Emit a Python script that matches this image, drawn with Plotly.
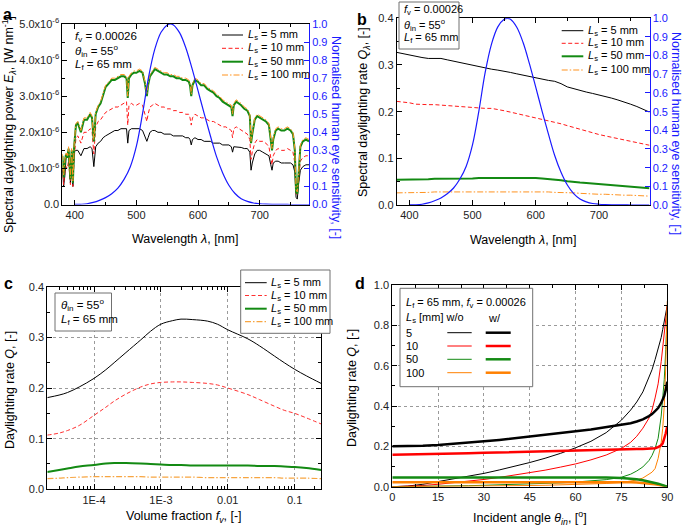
import numpy as np
import plotly.graph_objects as go

W, H = 685, 531
FONT = "Arial, Liberation Sans, sans-serif"


def px(x):
    return x / W


def py(y):
    return 1 - y / H


# ---------------- Panel a data (E_lambda in units of 1e-6 W/nm) ----------------
wl_a = [380, 382, 384, 386, 388, 390, 393, 395, 397, 399,
        402, 405, 410, 415, 420, 425, 428, 431, 434, 438,
        442, 446, 450, 455, 460, 465, 470, 475, 480, 484,
        486, 488, 492, 496, 500, 505, 510, 514, 517, 519,
        522, 526, 530, 535, 540, 545, 550, 555, 560, 565,
        570, 575, 580, 585, 587, 589, 591, 595, 600, 605,
        610, 615, 620, 625, 630, 635, 640, 645, 650, 654,
        656, 658, 662, 666, 670, 675, 680, 684, 686, 688,
        692, 696, 700, 705, 710, 715, 718, 720, 722, 726,
        730, 735, 740, 745, 750, 754, 757, 759, 761, 763,
        766, 770, 775, 780]

Ea_5 = [0.95, 0.5, 0.8, 1.3, 1.4, 1.45, 0.6, 1.4, 0.5, 1.45,
        1.5, 1.5, 1.35, 1.55, 1.55, 1.6, 1.55, 1.05, 1.6, 1.7,
        1.75, 1.85, 1.9, 1.95, 2.0, 2.05, 2.05, 2.1, 2.1, 2.1,
        1.7, 2.05, 2.1, 2.1, 2.1, 2.1, 2.05, 1.85, 1.75, 1.85,
        2.0, 2.05, 2.05, 2.0, 2.0, 1.95, 1.95, 1.95, 1.9, 1.9,
        1.9, 1.9, 1.85, 1.85, 1.8, 1.65, 1.8, 1.85, 1.8, 1.8,
        1.75, 1.75, 1.75, 1.7, 1.7, 1.7, 1.65, 1.65, 1.65, 1.6,
        1.45, 1.6, 1.6, 1.6, 1.58, 1.55, 1.55, 1.45, 0.95, 1.15,
        1.4, 1.5, 1.5, 1.45, 1.4, 1.35, 1.1, 0.95, 1.15, 1.2,
        1.2, 1.15, 1.15, 1.15, 1.15, 1.1, 0.9, 0.2, 0.15, 0.55,
        0.95, 1.05, 1.1, 1.1]

Ea_10 = [1.0, 0.55, 0.9, 1.05, 1.0, 1.2, 0.55, 1.15, 0.5, 1.25,
         1.85, 1.9, 1.7, 2.0, 2.0, 2.1, 2.05, 1.4, 2.15, 2.3,
         2.35, 2.45, 2.55, 2.6, 2.65, 2.7, 2.7, 2.75, 2.8, 2.85,
         2.2, 2.75, 2.8, 2.75, 2.75, 2.8, 2.75, 2.5, 2.3, 2.5,
         2.7, 2.75, 2.8, 2.75, 2.7, 2.7, 2.65, 2.65, 2.6, 2.6,
         2.55, 2.55, 2.5, 2.5, 2.4, 2.2, 2.4, 2.5, 2.45, 2.4,
         2.4, 2.35, 2.3, 2.3, 2.25, 2.2, 2.15, 2.15, 2.1, 2.05,
         1.85, 2.1, 2.15, 2.1, 2.05, 2.0, 1.95, 1.8, 1.25, 1.45,
         1.7, 1.8, 1.75, 1.75, 1.7, 1.6, 1.3, 1.1, 1.35, 1.5,
         1.55, 1.5, 1.5, 1.55, 1.5, 1.45, 1.15, 0.3, 0.25, 0.7,
         1.2, 1.3, 1.35, 1.35]

Ea_50 = [1.35, 0.75, 1.2, 1.4, 1.3, 1.55, 0.7, 1.5, 0.6, 1.6,
         2.2, 2.25, 2.0, 2.35, 2.35, 2.5, 2.4, 1.75, 2.5, 2.7,
         2.8, 3.0, 3.25, 3.35, 3.45, 3.45, 3.5, 3.55, 3.55, 3.5,
         2.95, 3.5, 3.6, 3.65, 3.65, 3.7, 3.65, 3.35, 3.0, 3.3,
         3.55, 3.65, 3.75, 3.7, 3.65, 3.6, 3.6, 3.55, 3.55, 3.5,
         3.5, 3.45, 3.45, 3.4, 3.3, 3.0, 3.3, 3.45, 3.4, 3.3,
         3.3, 3.2, 3.15, 3.1, 3.0, 2.95, 2.85, 2.8, 2.75, 2.7,
         2.45, 2.75, 2.85, 2.8, 2.75, 2.65, 2.6, 2.45, 1.7, 1.95,
         2.35, 2.45, 2.4, 2.35, 2.3, 2.2, 1.75, 1.5, 1.8, 2.05,
         2.1, 2.05, 2.05, 2.1, 2.05, 1.95, 1.5, 0.35, 0.3, 0.9,
         1.6, 1.75, 1.8, 1.75]

Ea_100 = [1.4, 0.8, 1.25, 1.45, 1.35, 1.6, 0.75, 1.55, 0.65, 1.65,
          2.25, 2.3, 2.05, 2.4, 2.4, 2.55, 2.45, 1.8, 2.55, 2.75,
          2.85, 3.05, 3.3, 3.4, 3.5, 3.5, 3.55, 3.6, 3.6, 3.55,
          3.0, 3.55, 3.65, 3.7, 3.7, 3.75, 3.7, 3.4, 3.05, 3.35,
          3.6, 3.7, 3.8, 3.75, 3.7, 3.65, 3.65, 3.6, 3.6, 3.55,
          3.55, 3.5, 3.5, 3.45, 3.35, 3.05, 3.35, 3.5, 3.45, 3.35,
          3.35, 3.25, 3.2, 3.15, 3.05, 3.0, 2.9, 2.85, 2.8, 2.75,
          2.5, 2.8, 2.9, 2.85, 2.8, 2.7, 2.65, 2.5, 1.75, 2.0,
          2.4, 2.5, 2.45, 2.4, 2.35, 2.25, 1.8, 1.55, 1.85, 2.1,
          2.15, 2.1, 2.1, 2.15, 2.1, 2.0, 1.55, 0.4, 0.35, 0.95,
          1.65, 1.8, 1.85, 1.8]

# Normalised human eye sensitivity V(lambda)
wl_v = [400, 410, 420, 430, 440, 450, 460, 470, 480, 490,
        500, 510, 520, 530, 540, 550, 555, 560, 570, 580,
        590, 600, 610, 620, 630, 640, 650, 660, 670, 680,
        690, 700, 710, 720, 730, 740, 750, 760, 770, 780]
V_eye = [0.0004, 0.0012, 0.0040, 0.0116, 0.0230, 0.0380, 0.0600, 0.0910, 0.1390, 0.2080,
         0.3230, 0.5030, 0.7100, 0.8620, 0.9540, 0.9950, 1.0000, 0.9950, 0.9520, 0.8700,
         0.7570, 0.6310, 0.5030, 0.3810, 0.2650, 0.1750, 0.1070, 0.0610, 0.0320, 0.0170,
         0.0082, 0.0041, 0.0021, 0.0010, 0.0005, 0.0002, 0.0001, 0.0001, 0.0000, 0.0000]

# ---------------- Panel b data ----------------
wl_b = [380, 390, 400, 410, 420, 430, 440, 450, 460, 470,
        480, 490, 500, 510, 520, 530, 540, 550, 560, 570,
        580, 590, 600, 610, 620, 630, 640, 650, 660, 670,
        680, 690, 700, 710, 720, 730, 740, 750, 760, 770, 780]
Qb_5 = [0.327, 0.324, 0.321, 0.318, 0.316, 0.314, 0.314, 0.314, 0.311, 0.308,
        0.305, 0.303, 0.300, 0.297, 0.294, 0.291, 0.289, 0.287, 0.284, 0.281,
        0.278, 0.275, 0.272, 0.269, 0.267, 0.265, 0.260, 0.253, 0.249, 0.246,
        0.242, 0.239, 0.236, 0.232, 0.229, 0.225, 0.221, 0.216, 0.211, 0.205, 0.199]
Qb_10 = [0.222, 0.221, 0.219, 0.216, 0.215, 0.215, 0.215, 0.214, 0.213, 0.211,
         0.210, 0.209, 0.208, 0.207, 0.207, 0.207, 0.205, 0.202, 0.199, 0.196,
         0.193, 0.190, 0.187, 0.184, 0.181, 0.178, 0.174, 0.170, 0.166, 0.162,
         0.158, 0.154, 0.151, 0.148, 0.145, 0.142, 0.139, 0.136, 0.133, 0.130, 0.128]
Qb_50 = [0.054, 0.054, 0.054, 0.055, 0.055, 0.055, 0.056, 0.056, 0.056, 0.056,
         0.057, 0.057, 0.057, 0.058, 0.058, 0.059, 0.059, 0.059, 0.059, 0.058,
         0.058, 0.058, 0.058, 0.057, 0.056, 0.055, 0.053, 0.051, 0.049, 0.048,
         0.047, 0.046, 0.045, 0.044, 0.043, 0.042, 0.041, 0.040, 0.039, 0.037, 0.036]
Qb_100 = [0.026, 0.026, 0.027, 0.027, 0.027, 0.027, 0.028, 0.028, 0.028, 0.028,
          0.028, 0.028, 0.028, 0.029, 0.029, 0.029, 0.029, 0.029, 0.029, 0.029,
          0.029, 0.028, 0.028, 0.028, 0.028, 0.027, 0.027, 0.026, 0.026, 0.025,
          0.024, 0.024, 0.023, 0.023, 0.022, 0.022, 0.021, 0.021, 0.020, 0.020, 0.019]

# ---------------- Panel c data ----------------
fv_c = [2e-5, 3e-5, 4e-5, 6e-5, 1e-4, 1.5e-4, 2e-4, 3e-4, 5e-4, 7e-4,
        1e-3, 1.5e-3, 2e-3, 3e-3, 5e-3, 7e-3, 1e-2, 2e-2, 3e-2, 5e-2,
        7e-2, 0.1, 0.15, 0.25]
Qc_5 = [0.181, 0.186, 0.191, 0.202, 0.219, 0.236, 0.250, 0.270, 0.295, 0.312,
        0.326, 0.333, 0.336, 0.335, 0.332, 0.326, 0.315, 0.297, 0.283, 0.263,
        0.250, 0.237, 0.224, 0.209]
Qc_10 = [0.107, 0.111, 0.116, 0.126, 0.146, 0.162, 0.174, 0.188, 0.202, 0.208,
         0.211, 0.212, 0.212, 0.211, 0.209, 0.206, 0.200, 0.187, 0.177, 0.164,
         0.156, 0.150, 0.141, 0.129]
Qc_50 = [0.034, 0.038, 0.041, 0.045, 0.048, 0.051, 0.052, 0.052, 0.051, 0.050,
         0.049, 0.048, 0.048, 0.047, 0.047, 0.047, 0.047, 0.047, 0.046, 0.046,
         0.045, 0.044, 0.042, 0.038]
Qc_100 = [0.021, 0.022, 0.023, 0.024, 0.025, 0.025, 0.025, 0.025, 0.025, 0.024,
          0.024, 0.024, 0.024, 0.024, 0.023, 0.023, 0.023, 0.023, 0.023, 0.023,
          0.022, 0.022, 0.022, 0.021]

# ---------------- Panel d data ----------------
ang_d = [0, 5, 10, 15, 20, 25, 30, 35, 40, 45,
         50, 55, 60, 65, 70, 75, 78, 80, 82, 84,
         85, 86, 87, 88, 88.5, 89, 89.5, 90]
Qd_wo_5 = [0.000, 0.003, 0.012, 0.025, 0.038, 0.052, 0.066, 0.083, 0.101, 0.120,
           0.141, 0.165, 0.193, 0.225, 0.268, 0.330, 0.380, 0.420, 0.470, 0.540,
           0.580, 0.630, 0.680, 0.740, 0.780, 0.820, 0.860, 0.900]
Qd_w_5 = [0.200, 0.201, 0.203, 0.207, 0.212, 0.218, 0.225, 0.232, 0.240, 0.248,
          0.256, 0.265, 0.275, 0.284, 0.295, 0.306, 0.315, 0.323, 0.334, 0.350,
          0.360, 0.375, 0.390, 0.415, 0.430, 0.450, 0.480, 0.520]
Qd_wo_10 = [0.000, 0.002, 0.006, 0.012, 0.019, 0.027, 0.036, 0.046, 0.057, 0.069,
            0.082, 0.097, 0.113, 0.133, 0.157, 0.190, 0.220, 0.250, 0.290, 0.340,
            0.380, 0.440, 0.510, 0.620, 0.690, 0.770, 0.850, 0.900]
Qd_w_10 = [0.158, 0.159, 0.160, 0.162, 0.164, 0.166, 0.168, 0.170, 0.172, 0.175,
           0.177, 0.180, 0.182, 0.184, 0.186, 0.187, 0.187, 0.187, 0.187, 0.188,
           0.189, 0.191, 0.196, 0.205, 0.215, 0.235, 0.265, 0.300]
Qd_wo_50 = [0.000, 0.0005, 0.001, 0.002, 0.003, 0.005, 0.007, 0.009, 0.011, 0.013,
            0.016, 0.019, 0.023, 0.028, 0.035, 0.047, 0.062, 0.078, 0.098, 0.130,
            0.155, 0.190, 0.240, 0.350, 0.430, 0.530, 0.680, 0.880]
Qd_w_50 = [0.045, 0.045, 0.045, 0.046, 0.046, 0.046, 0.047, 0.047, 0.047, 0.048,
           0.048, 0.048, 0.048, 0.047, 0.046, 0.043, 0.040, 0.037, 0.032, 0.026,
           0.023, 0.019, 0.015, 0.010, 0.008, 0.005, 0.003, 0.000]
Qd_wo_100 = [0.000, 0.0003, 0.0006, 0.001, 0.0015, 0.002, 0.003, 0.004, 0.005, 0.006,
             0.007, 0.009, 0.011, 0.013, 0.016, 0.021, 0.027, 0.033, 0.043, 0.060,
             0.072, 0.090, 0.140, 0.220, 0.290, 0.400, 0.600, 0.920]
Qd_w_100 = [0.022, 0.022, 0.022, 0.023, 0.023, 0.023, 0.024, 0.024, 0.024, 0.025,
            0.025, 0.025, 0.025, 0.025, 0.024, 0.023, 0.022, 0.021, 0.019, 0.016,
            0.014, 0.012, 0.010, 0.007, 0.005, 0.003, 0.002, 0.000]

Ls_labels = ["5", "10", "50", "100"]
a_yticks = [0, 1, 2, 3, 4, 5]
a_yticktext = ["0.0", "1.0x10<sup>-6</sup>", "2.0x10<sup>-6</sup>", "3.0x10<sup>-6</sup>",
               "4.0x10<sup>-6</sup>", "5.0x10<sup>-6</sup>"]
c_xticks = [1e-4, 1e-3, 1e-2, 1e-1]
c_xticktext = ["1E-4", "1E-3", "0.01", "0.1"]

# ---------------- Styles ----------------
BLACK, RED, GREEN, ORANGE, BLUE = "#000000", "#ff1a1a", "#138a13", "#ff9320", "#1a1aff"
RED_D, ORANGE_D = "#ff0000", "#ff8000"
DASH = "4px,2.5px"
DASHDOT = "6px,2px,1.5px,2px"
styles_abc = [
    dict(color=BLACK, width=1, dash="solid"),
    dict(color=RED, width=1, dash=DASH),
    dict(color=GREEN, width=2, dash="solid"),
    dict(color=ORANGE, width=1, dash=DASHDOT),
]

fig = go.Figure()

# Panel a
for yv, st in zip([Ea_5, Ea_10, Ea_50, Ea_100], styles_abc):
    fig.add_trace(go.Scatter(x=wl_a, y=np.array(yv) * 1e-6, mode="lines", line=st,
                             xaxis="x", yaxis="y", showlegend=False, hoverinfo="skip"))
fig.add_trace(go.Scatter(x=wl_v, y=V_eye, mode="lines", line=dict(color=BLUE, width=1.2, shape="spline"),
                         xaxis="x", yaxis="y2", showlegend=False, hoverinfo="skip"))

# Panel b
for yv, st in zip([Qb_5, Qb_10, Qb_50, Qb_100], styles_abc):
    fig.add_trace(go.Scatter(x=wl_b, y=yv, mode="lines", line=st,
                             xaxis="x2", yaxis="y3", showlegend=False, hoverinfo="skip"))
fig.add_trace(go.Scatter(x=wl_v, y=V_eye, mode="lines", line=dict(color=BLUE, width=1.2, shape="spline"),
                         xaxis="x2", yaxis="y4", showlegend=False, hoverinfo="skip"))

# Panel c
styles_c = [
    dict(color=BLACK, width=1, dash="solid", shape="spline"),
    dict(color="#ff3030", width=1, dash=DASH, shape="spline"),
    dict(color=GREEN, width=2, dash="solid", shape="spline"),
    dict(color="#f7a541", width=1.2, dash=DASHDOT, shape="spline"),
]
for yv, st in zip([Qc_5, Qc_10, Qc_50, Qc_100], styles_c):
    fig.add_trace(go.Scatter(x=fv_c, y=yv, mode="lines", line=st,
                             xaxis="x3", yaxis="y5", showlegend=False, hoverinfo="skip"))

# Panel d
cols_d = [BLACK, RED_D, GREEN, ORANGE_D]
for yv, c in zip([Qd_wo_5, Qd_wo_10, Qd_wo_50, Qd_wo_100], cols_d):
    fig.add_trace(go.Scatter(x=ang_d, y=yv, mode="lines", line=dict(color=c, width=1),
                             xaxis="x4", yaxis="y6", showlegend=False, hoverinfo="skip"))
for yv, c in zip([Qd_w_100, Qd_w_50, Qd_w_10, Qd_w_5], cols_d[::-1]):
    fig.add_trace(go.Scatter(x=ang_d, y=yv, mode="lines", line=dict(color=c, width=2.5),
                             xaxis="x4", yaxis="y6", showlegend=False, hoverinfo="skip"))

TICKF = 11


def ax(**kw):
    base = dict(showline=True, linecolor="black", linewidth=1, ticks="inside", ticklen=5,
                tickwidth=1, tickcolor="black", showgrid=False, zeroline=False, automargin=False,
                tickfont=dict(family=FONT, size=TICKF, color="#222222"), fixedrange=True)
    base.update(kw)
    return base


minor_lin = lambda d: dict(ticks="inside", ticklen=3, tickcolor="black", dtick=d, showgrid=False)
blue_ax = dict(linecolor=BLUE, tickcolor=BLUE, tickfont=dict(family=FONT, size=TICKF, color=BLUE))
GRID = dict(showgrid=True, gridcolor="#9a9a9a", griddash="dot", gridwidth=1)

layout = dict(
    template="none",
    width=W, height=H, margin=dict(l=0, r=0, t=0, b=0, autoexpand=False),
    paper_bgcolor="white", plot_bgcolor="white", showlegend=False,
    font=dict(family=FONT, size=12, color="black"),
    # a
    xaxis=ax(domain=[px(62.4), px(309)], anchor="y", range=[380, 780], tickvals=[400, 500, 600, 700],
             minor=minor_lin(50), mirror="ticks"),
    yaxis=ax(domain=[py(204.5), py(24)], anchor="x", range=[0, 5e-6],
             tickvals=[v * 1e-6 for v in a_yticks], ticktext=a_yticktext, minor=minor_lin(0.5e-6)),
    yaxis2=ax(overlaying="y", side="right", anchor="x", range=[0, 1], dtick=0.1, tickformat=".1f",
              **blue_ax),
    # b
    xaxis2=ax(domain=[px(396.7), px(649.5)], anchor="y3", range=[380, 780], tickvals=[400, 500, 600, 700],
              minor=minor_lin(50), mirror="ticks"),
    yaxis3=ax(domain=[py(205), py(18.3)], anchor="x2", range=[0, 0.4], dtick=0.1, tickformat=".1f",
              minor=minor_lin(0.05)),
    yaxis4=ax(overlaying="y3", side="right", anchor="x2", range=[0, 1], dtick=0.1, tickformat=".1f",
              **blue_ax),
    # c
    xaxis3=ax(domain=[px(47.3), px(321.2)], anchor="y5", type="log",
              range=[np.log10(2e-5), np.log10(0.25)], tickvals=c_xticks, ticktext=c_xticktext,
              minor=dict(ticks="inside", ticklen=3, tickcolor="black", dtick="D1", showgrid=False),
              mirror="ticks", **GRID),
    yaxis5=ax(domain=[py(489.3), py(286.7)], anchor="x3", range=[0, 0.4], dtick=0.1, tickformat=".1f",
              minor=minor_lin(0.05), mirror="ticks", **GRID),
    # d
    xaxis4=ax(domain=[px(392.3), px(667.3)], anchor="y6", range=[0, 90], dtick=15,
              minor=minor_lin(7.5), mirror="ticks", **GRID),
    yaxis6=ax(domain=[py(486.7), py(285)], anchor="x4", range=[0, 1], dtick=0.2, tickformat=".1f",
              minor=minor_lin(0.1), mirror="ticks", **GRID),
)
fig.update_layout(**layout)

annotations = []
shapes = []


def txt(x, y, text, size=11.5, color="black", xanchor="left", angle=0):
    annotations.append(dict(x=px(x), y=py(y), xref="paper", yref="paper", text=text, showarrow=False,
                            xanchor=xanchor, yanchor="middle", textangle=angle,
                            font=dict(family=FONT, size=size, color=color)))


def hline(x0, x1, y, color, width=1, dash="solid"):
    shapes.append(dict(type="line", xref="paper", yref="paper", x0=px(x0), x1=px(x1), y0=py(y), y1=py(y),
                       line=dict(color=color, width=width, dash=dash), layer="above"))


def box(x0, y0, x1, y1):
    shapes.append(dict(type="rect", xref="paper", yref="paper", x0=px(x0), x1=px(x1), y0=py(y1), y1=py(y0),
                       line=dict(color="#707070", width=1), fillcolor="white", layer="above"))


# panel letters
txt(1, 14, "<b>a</b>", size=16)
txt(355, 19, "<b>b</b>", size=16)
txt(2, 283, "<b>c</b>", size=16)
txt(353, 283, "<b>d</b>", size=16)

# axis titles
TS = 12.5
txt(9, 125, "Spectral daylighting power <i>E</i><sub><i>λ</i></sub>, [W nm<sup>-1</sup>]", TS,
    xanchor="center", angle=-90)
txt(185, 239, "Wavelength <i>λ</i>, [nm]", TS, xanchor="center")
txt(336, 137, "Normalised human eye sensitivity, [-]", TS, color=BLUE, xanchor="center", angle=90)

txt(364, 112, "Spectral daylighting rate <i>Q</i><sub><i>λ</i></sub>, [-]", TS, xanchor="center", angle=-90)
txt(523, 240, "Wavelength <i>λ</i>, [nm]", TS, xanchor="center")
txt(676, 133, "Normalised human eye sensitivity, [-]", TS, color=BLUE, xanchor="center", angle=90)

txt(10, 390, "Daylighting rate <i>Q</i>, [-]", TS, xanchor="center", angle=-90)
txt(184, 517, "Volume fraction <i>f</i><sub><i>v</i></sub>, [-]", TS, xanchor="center")

txt(352, 388, "Daylighting rate <i>Q</i>, [-]", TS, xanchor="center", angle=-90)
txt(530, 518, "Incident angle <i>θ</i><sub><i>in</i></sub>, [<sup>o</sup>]", TS, xanchor="center")

# parameter texts
fv_t = "<i>f</i><sub>v</sub> = 0.00026"
th_t = "<i>θ</i><sub>in</sub> = 55<sup>o</sup>"
lf_t = "<i>L</i><sub>f</sub> = 65 mm"
txt(73, 37, fv_t)
txt(73, 51, th_t)
txt(73, 65, lf_t)

box(399, 2, 459, 49)
txt(402, 10.5, fv_t, size=11)
txt(402, 24.5, th_t, size=11)
txt(402, 38.5, lf_t, size=11)

box(55, 293, 111.5, 331)
txt(59, 305, th_t)
txt(59, 320, lf_t)

# legends a, b, c
leg_styles = [(BLACK, 1, "solid"), (RED, 1, DASH), (GREEN, 2, "solid"), (ORANGE, 1.2, DASHDOT)]


def legend(x0, x1, xt, ys, sty):
    for lab, yy, (c, w, d) in zip(Ls_labels, ys, sty):
        hline(x0, x1, yy, c, w, d)
        txt(xt, yy, "<i>L</i><sub>s</sub> = %s mm" % lab, size=11)


legend(222, 243, 246, [35, 48.3, 61.7, 75], leg_styles)
legend(561.7, 583.3, 586, [30.7, 43.3, 56.3, 70], leg_styles)
box(240.7, 270, 330, 333.3)
legend(245, 266.7, 269, [282.7, 295.5, 308.7, 321.7],
       [(BLACK, 1, "solid"), ("#ff3030", 1, DASH), (GREEN, 2, "solid"), ("#f7a541", 1.2, DASHDOT)])

# legend d
box(400, 288.3, 532.7, 386.7)
txt(404, 302.7, "<i>L</i><sub>f</sub> = 65 mm, <i>f</i><sub>v</sub> = 0.00026", size=11)
txt(404, 318, "<i>L</i><sub>s</sub> [mm] w/o", size=11)
txt(486, 318, "w/", size=11)
for lab, yy, c in zip(Ls_labels, [332.7, 346, 359.3, 372.7], cols_d):
    txt(404, yy, lab, size=11)
    hline(447.3, 471.7, yy, c, 1)
    hline(485.7, 510.7, yy, c, 2.5)

fig.update_layout(annotations=annotations, shapes=shapes)
fig.write_html(
    "out.html",
    config={"displayModeBar": False},
    post_script="document.body.style.margin='0';document.body.style.padding='0';"
                "document.body.style.overflow='hidden';",
)
